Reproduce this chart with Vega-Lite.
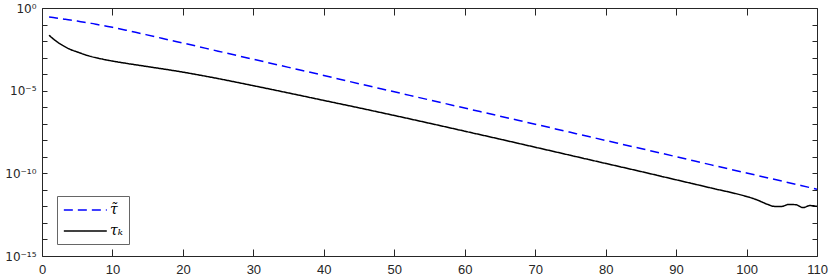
{
  "$schema": "https://vega.github.io/schema/vega-lite/v6.json",
  "width": 775,
  "height": 248,
  "autosize": {"type": "none"},
  "padding": {"left": 42, "top": 8, "right": 13, "bottom": 22},
  "background": "white",
  "config": {
    "view": {"stroke": null},
    "font": "Liberation Sans",
    "axis": {
      "grid": false,
      "domainColor": "#262626",
      "tickColor": "#262626",
      "labelColor": "#262626",
      "labelFont": "Liberation Sans",
      "labelFontSize": 13,
      "title": null
    }
  },
  "data": {
    "values": [
      {"k": 1, "v": 0.2818, "s": "τ̃"},
      {"k": 2, "v": 0.2512, "s": "τ̃"},
      {"k": 3, "v": 0.2188, "s": "τ̃"},
      {"k": 4, "v": 0.1905, "s": "τ̃"},
      {"k": 5, "v": 0.1622, "s": "τ̃"},
      {"k": 6, "v": 0.138, "s": "τ̃"},
      {"k": 7, "v": 0.1175, "s": "τ̃"},
      {"k": 8, "v": 0.0977, "s": "τ̃"},
      {"k": 9, "v": 0.0813, "s": "τ̃"},
      {"k": 10, "v": 0.0676, "s": "τ̃"},
      {"k": 12, "v": 0.0447, "s": "τ̃"},
      {"k": 14, "v": 0.0288, "s": "τ̃"},
      {"k": 16, "v": 0.0186, "s": "τ̃"},
      {"k": 18, "v": 0.01175, "s": "τ̃"},
      {"k": 20, "v": 0.00759, "s": "τ̃"},
      {"k": 25, "v": 2.455e-3, "s": "τ̃"},
      {"k": 30, "v": 7.94e-4, "s": "τ̃"},
      {"k": 35, "v": 2.57e-4, "s": "τ̃"},
      {"k": 40, "v": 8.32e-5, "s": "τ̃"},
      {"k": 45, "v": 2.63e-5, "s": "τ̃"},
      {"k": 50, "v": 8.51e-6, "s": "τ̃"},
      {"k": 55, "v": 2.75e-6, "s": "τ̃"},
      {"k": 60, "v": 8.91e-7, "s": "τ̃"},
      {"k": 65, "v": 2.88e-7, "s": "τ̃"},
      {"k": 70, "v": 9.33e-8, "s": "τ̃"},
      {"k": 75, "v": 3.02e-8, "s": "τ̃"},
      {"k": 80, "v": 9.77e-9, "s": "τ̃"},
      {"k": 85, "v": 3.16e-9, "s": "τ̃"},
      {"k": 90, "v": 1.02e-9, "s": "τ̃"},
      {"k": 95, "v": 3.24e-10, "s": "τ̃"},
      {"k": 100, "v": 1.05e-10, "s": "τ̃"},
      {"k": 105, "v": 3.39e-11, "s": "τ̃"},
      {"k": 110, "v": 1.1e-11, "s": "τ̃"},
      {"k": 1, "v": 0.0224, "s": "τₖ"},
      {"k": 2, "v": 0.01, "s": "τₖ"},
      {"k": 3, "v": 0.00525, "s": "τₖ"},
      {"k": 4, "v": 0.00316, "s": "τₖ"},
      {"k": 5, "v": 0.00219, "s": "τₖ"},
      {"k": 6, "v": 0.00155, "s": "τₖ"},
      {"k": 7, "v": 0.00115, "s": "τₖ"},
      {"k": 8, "v": 9.12e-4, "s": "τₖ"},
      {"k": 9, "v": 7.41e-4, "s": "τₖ"},
      {"k": 10, "v": 6.17e-4, "s": "τₖ"},
      {"k": 12, "v": 4.47e-4, "s": "τₖ"},
      {"k": 14, "v": 3.31e-4, "s": "τₖ"},
      {"k": 16, "v": 2.45e-4, "s": "τₖ"},
      {"k": 18, "v": 1.82e-4, "s": "τₖ"},
      {"k": 20, "v": 1.32e-4, "s": "τₖ"},
      {"k": 22, "v": 9.33e-5, "s": "τₖ"},
      {"k": 25, "v": 5.37e-5, "s": "τₖ"},
      {"k": 30, "v": 2.0e-5, "s": "τₖ"},
      {"k": 35, "v": 7.24e-6, "s": "τₖ"},
      {"k": 40, "v": 2.57e-6, "s": "τₖ"},
      {"k": 45, "v": 9.12e-7, "s": "τₖ"},
      {"k": 50, "v": 3.16e-7, "s": "τₖ"},
      {"k": 55, "v": 1.07e-7, "s": "τₖ"},
      {"k": 60, "v": 3.55e-8, "s": "τₖ"},
      {"k": 65, "v": 1.17e-8, "s": "τₖ"},
      {"k": 70, "v": 3.8e-9, "s": "τₖ"},
      {"k": 75, "v": 1.23e-9, "s": "τₖ"},
      {"k": 80, "v": 3.98e-10, "s": "τₖ"},
      {"k": 85, "v": 1.29e-10, "s": "τₖ"},
      {"k": 90, "v": 4.07e-11, "s": "τₖ"},
      {"k": 95, "v": 1.29e-11, "s": "τₖ"},
      {"k": 100, "v": 3.98e-12, "s": "τₖ"},
      {"k": 101, "v": 2.95e-12, "s": "τₖ"},
      {"k": 102, "v": 2.0e-12, "s": "τₖ"},
      {"k": 103, "v": 1.32e-12, "s": "τₖ"},
      {"k": 104, "v": 1.0e-12, "s": "τₖ"},
      {"k": 105, "v": 1.0e-12, "s": "τₖ"},
      {"k": 106, "v": 1.32e-12, "s": "τₖ"},
      {"k": 107, "v": 1.26e-12, "s": "τₖ"},
      {"k": 108, "v": 8.51e-13, "s": "τₖ"},
      {"k": 109, "v": 1.12e-12, "s": "τₖ"},
      {"k": 110, "v": 1.0e-12, "s": "τₖ"}
    ]
  },
  "layer": [
    {
      "mark": {"type": "line", "strokeWidth": 1.5, "interpolate": "monotone"},
      "encoding": {
        "x": {
          "field": "k", "type": "quantitative",
          "scale": {"domain": [0, 110], "nice": false, "zero": false},
          "axis": {"orient": "bottom", "values": [0,10,20,30,40,50,60,70,80,90,100,110], "tickSize": -7, "labelPadding": 14, "labelFlush": false}
        },
        "y": {
          "field": "v", "type": "quantitative",
          "scale": {"type": "log", "domain": [1e-15, 1], "nice": false},
          "axis": {
            "orient": "left",
            "values": [1, 1e-1, 1e-2, 1e-3, 1e-4, 1e-5, 1e-6, 1e-7, 1e-8, 1e-9, 1e-10, 1e-11, 1e-12, 1e-13, 1e-14, 1e-15],
            "tickSize": -5,
            "labelPadding": 11,
            "labelFont": "DejaVu Sans",
            "labelFontSize": 12,
            "labelFlush": false,
            "labelOverlap": false,
            "labelExpr": "datum.value > 0.5 ? '10⁰' : (abs(datum.value - 1e-5) < 1e-6 ? '10⁻⁵' : (abs(datum.value/1e-10 - 1) < 0.01 ? '10⁻¹⁰' : (abs(datum.value/1e-15 - 1) < 0.01 ? '10⁻¹⁵' : '')))"
          }
        },
        "color": {
          "field": "s", "type": "nominal",
          "scale": {"domain": ["τ̃", "τₖ"], "range": ["#0000ff", "#000000"]},
          "legend": {
            "title": null,
            "orient": "none",
            "legendX": 15,
            "legendY": 188,
            "padding": 6,
            "rowPadding": 6,
            "strokeColor": "#666666",
            "fillColor": "white",
            "cornerRadius": 0,
            "symbolType": "M-1,0H5",
            "symbolSize": 205,
            "symbolStrokeWidth": 1.5,
            "labelOffset": 31,
            "labelFont": "DejaVu Serif",
            "labelFontStyle": "italic",
            "labelFontSize": 14,
            "labelColor": "#000000"
          }
        },
        "strokeDash": {
          "field": "s", "type": "nominal",
          "scale": {"domain": ["τ̃", "τₖ"], "range": [[9, 5], [1, 0]]},
          "legend": null
        }
      }
    },
    {
      "mark": {"type": "line", "opacity": 0},
      "encoding": {
        "x": {
          "field": "k", "type": "quantitative",
          "axis": {"orient": "top", "values": [0,10,20,30,40,50,60,70,80,90,100,110], "tickSize": -7, "labels": false}
        },
        "y": {
          "field": "v", "type": "quantitative",
          "axis": {"orient": "right", "values": [1, 1e-1, 1e-2, 1e-3, 1e-4, 1e-5, 1e-6, 1e-7, 1e-8, 1e-9, 1e-10, 1e-11, 1e-12, 1e-13, 1e-14, 1e-15], "tickSize": -5, "labels": false}
        },
        "detail": {"field": "s", "type": "nominal"}
      }
    }
  ],
  "resolve": {"axis": {"x": "independent", "y": "independent"}}
}
